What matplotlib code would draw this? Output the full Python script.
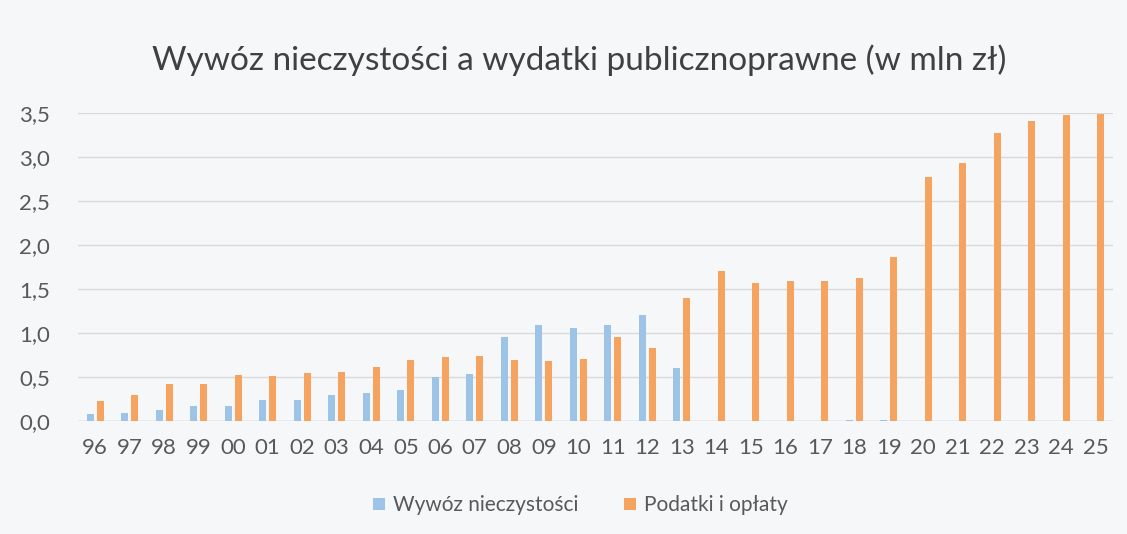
import matplotlib
matplotlib.use("Agg")
import matplotlib.pyplot as plt
import numpy as np
from matplotlib.ticker import FuncFormatter

years = ["96", "97", "98", "99", "00", "01", "02", "03", "04", "05", "06", "07", "08",
         "09", "10", "11", "12", "13", "14", "15", "16", "17", "18", "19", "20", "21",
         "22", "23", "24", "25"]
wywoz = [0.08, 0.09, 0.12, 0.17, 0.17, 0.235, 0.235, 0.29, 0.32, 0.355, 0.50, 0.53, 0.955,
         1.09, 1.06, 1.09, 1.20, 0.60, 0.0, 0.0, 0.0, 0.0, 0.01, 0.01, 0.0, 0.0,
         0.0, 0.0, 0.0, 0.0]
podatki = [0.23, 0.29, 0.42, 0.42, 0.52, 0.51, 0.55, 0.56, 0.61, 0.69, 0.73, 0.74, 0.69,
           0.68, 0.70, 0.95, 0.83, 1.40, 1.70, 1.57, 1.59, 1.59, 1.62, 1.86, 2.77, 2.93,
           3.27, 3.41, 3.48, 3.49]
yticks = [0.0, 0.5, 1.0, 1.5, 2.0, 2.5, 3.0, 3.5]

plt.rcParams['font.family'] = ['Lato', 'DejaVu Sans']
bg = "#f6f7f9"
fig = plt.figure(figsize=(11.27, 5.34), dpi=100, facecolor=bg)
ax = fig.add_axes([0.0692, 0.2116, 0.9184, 0.5768], facecolor=bg)

x = np.arange(len(years))
w = 0.2
ax.bar(x - 0.15, wywoz, width=w, color="#9dc3e6", label="Wywóz nieczystości", zorder=3)
ax.bar(x + 0.15, podatki, width=w, color="#f5a35e", label="Podatki i opłaty", zorder=3)

ax.set_xlim(-0.5, len(years) - 0.5)
ax.set_ylim(0, 3.5)
ax.set_yticks(yticks)
ax.yaxis.set_major_formatter(FuncFormatter(lambda v, p: f"{v:.1f}".replace(".", ",")))
ax.set_xticks(x)
ax.set_xticklabels(years)
ax.grid(axis="y", color="#d9d9d9", linewidth=1, zorder=0)
for s in ax.spines.values():
    s.set_visible(False)
ax.axhline(0, color="#d0d0d0", linewidth=1, zorder=2)
ax.tick_params(axis="both", length=0, labelsize=16, colors="#595959")
ax.tick_params(axis="x", pad=12)
ax.tick_params(axis="y", pad=20)

fig.text(0.514, 0.888, "Wywóz nieczystości a wydatki publicznoprawne (w mln zł)",
         ha="center", va="center", fontsize=24, color="#404040")

leg = fig.legend(loc="center", bbox_to_anchor=(0.515, 0.054), ncol=2, frameon=False,
                 fontsize=15, handlelength=0.55, handleheight=0.55, columnspacing=2.2,
                 handletextpad=0.4)
for t in leg.get_texts():
    t.set_color("#595959")

fig.savefig("out.png", dpi=100, facecolor=bg)
